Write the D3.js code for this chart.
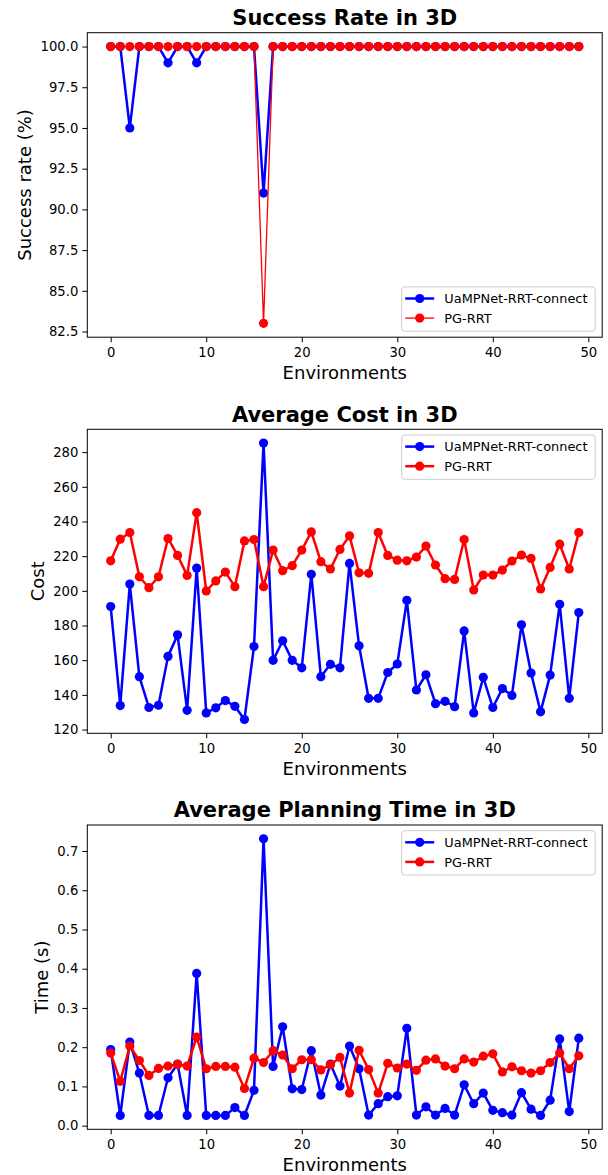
<!DOCTYPE html>
<html>
<head>
<meta charset="utf-8">
<script src="https://cdn.jsdelivr.net/npm/d3@7"></script>
<style>
  html, body { margin: 0; padding: 0; background: #fff; }
  svg { display: block; font-family: "DejaVu Sans", sans-serif; }
</style>
</head>
<body>
<svg id="chart" width="608" height="1175"></svg>
<script>
// ---------- data ----------
const environments = [0,1,2,3,4,5,6,7,8,9,10,11,12,13,14,15,16,17,18,19,20,21,22,23,24,25,26,27,28,29,30,31,32,33,34,35,36,37,38,39,40,41,42,43,44,45,46,47,48,49];
const seriesNames = ["UaMPNet-RRT-connect", "PG-RRT"];

const successUa = [100,100,95,100,100,100,99,100,100,99, 100,100,100,100,100,100,91,100,100,100, 100,100,100,100,100,100,100,100,100,100, 100,100,100,100,100,100,100,100,100,100, 100,100,100,100,100,100,100,100,100,100];
const successPg = [100,100,100,100,100,100,100,100,100,100, 100,100,100,100,100,100,83,100,100,100, 100,100,100,100,100,100,100,100,100,100, 100,100,100,100,100,100,100,100,100,100, 100,100,100,100,100,100,100,100,100,100];

const costUa = [190.9,133.8,203.9,150.5,132.7,134.0,162.2,174.6,131.1,213.1, 129.6,132.5,136.7,133.4,125.8,167.9,285.2,159.9,171.2,159.9, 155.6,209.5,150.5,157.6,155.6,215.8,168.3,138.0,138.0,152.9, 157.8,194.5,142.8,151.6,134.9,136.3,133.2,176.9,129.6,150.1, 132.7,143.6,139.7,180.4,152.6,130.2,151.4,192.2,138.0,187.5];
const costPg = [217.3,229.8,233.6,208.1,201.8,208.1,230.2,220.4,208.9,245.1, 199.9,205.7,210.8,202.4,228.8,229.6,202.4,223.5,211.6,214.5, 223.5,234.0,216.8,212.6,223.9,231.7,210.4,210.1,233.6,220.4, 217.7,217.3,219.5,225.8,214.9,207.0,206.6,229.6,200.5,209.1, 209.1,212.0,217.2,220.6,218.7,201.1,213.5,226.9,212.6,233.6];

const timeUa = [0.194,0.026,0.213,0.134,0.026,0.026,0.122,0.157,0.026,0.388, 0.026,0.026,0.026,0.046,0.026,0.090,0.731,0.151,0.252,0.094, 0.092,0.191,0.078,0.157,0.101,0.203,0.145,0.027,0.056,0.074, 0.076,0.248,0.027,0.048,0.027,0.044,0.027,0.104,0.056,0.083, 0.039,0.033,0.027,0.084,0.042,0.026,0.065,0.221,0.036,0.223];
const timePg = [0.185,0.113,0.203,0.166,0.128,0.146,0.152,0.156,0.152,0.226, 0.145,0.151,0.151,0.149,0.095,0.172,0.161,0.191,0.180,0.145, 0.168,0.168,0.142,0.155,0.174,0.083,0.192,0.143,0.083,0.159, 0.147,0.157,0.141,0.167,0.170,0.152,0.145,0.170,0.162,0.177, 0.183,0.137,0.150,0.140,0.134,0.140,0.161,0.185,0.145,0.178];

const xTicks = [0,10,20,30,40,50];
const successTicks = [82.5,85.0,87.5,90.0,92.5,95.0,97.5,100.0];
const costTicks = [120,140,160,180,200,220,240,260,280];
const timeTicks = [0.0,0.1,0.2,0.3,0.4,0.5,0.6,0.7];

const titles = ["Success Rate in 3D", "Average Cost in 3D", "Average Planning Time in 3D"];
const yLabels = ["Success rate (%)", "Cost", "Time (s)"];
const xLabel = "Environments";

// ---------- layout ----------
const svg = d3.select("#chart");
const left = 87.3, right = 602.2;
const panels = [
  { top: 32.7, bottom: 337.2, a: successUa, b: successPg, ticks: successTicks, fmt: d3.format(".1f"), redW: 1.3, legendPos: "lower" },
  { top: 429.3, bottom: 733.3, a: costUa, b: costPg, ticks: costTicks, fmt: d3.format("d"), redW: 2.5, legendPos: "upper" },
  { top: 825.0, bottom: 1129.3, a: timeUa, b: timePg, ticks: timeTicks, fmt: d3.format(".1f"), redW: 2.5, legendPos: "upper" }
];
const colors = ["#0000ff", "#ff0000"];
const tickFont = 13.2;

panels.forEach((p, i) => {
  const xDom = d3.extent(environments);
  const xPad = (xDom[1] - xDom[0]) * 0.05;
  const x = d3.scaleLinear().domain([xDom[0] - xPad, xDom[1] + xPad]).range([left, right]);
  const all = p.a.concat(p.b);
  const yDom = d3.extent(all);
  const yPad = (yDom[1] - yDom[0]) * 0.05;
  const y = d3.scaleLinear().domain([yDom[0] - yPad, yDom[1] + yPad]).range([p.bottom, p.top]);

  const g = svg.append("g");

  // axes
  const xAxis = g.append("g").attr("transform", `translate(0,${p.bottom})`)
    .call(d3.axisBottom(x).tickValues(xTicks).tickSize(5).tickPadding(5.3).tickFormat(d3.format("d")));
  const yAxis = g.append("g").attr("transform", `translate(${left},0)`)
    .call(d3.axisLeft(y).tickValues(p.ticks).tickSize(5).tickPadding(4).tickFormat(p.fmt));
  [xAxis, yAxis].forEach(ax => {
    ax.select(".domain").remove();
    ax.selectAll("line").attr("stroke", "#000").attr("stroke-width", 1);
    ax.selectAll("text").attr("fill", "#000").style("font-size", tickFont + "px").style("font-family", "DejaVu Sans");
  });

  // frame
  g.append("rect").attr("x", left).attr("y", p.top).attr("width", right - left).attr("height", p.bottom - p.top)
    .attr("fill", "none").attr("stroke", "#000").attr("stroke-width", 1);

  // series
  const line = d3.line().x((d, k) => x(environments[k])).y(d => y(d));
  [p.a, p.b].forEach((vals, s) => {
    g.append("path").datum(vals).attr("d", line).attr("fill", "none")
      .attr("stroke", colors[s]).attr("stroke-width", s === 1 ? p.redW : 2.5).attr("stroke-linejoin", "round");
    g.append("g").selectAll("circle").data(vals).join("circle")
      .attr("cx", (d, k) => x(environments[k])).attr("cy", d => y(d)).attr("r", 4.6).attr("fill", colors[s]);
  });

  // title
  g.append("text").attr("x", (left + right) / 2).attr("y", p.top - 7.7).attr("text-anchor", "middle")
    .style("font-size", "21px").style("font-weight", "bold").text(titles[i]);

  // x label
  g.append("text").attr("x", (left + right) / 2).attr("y", p.bottom + 42).attr("text-anchor", "middle")
    .style("font-size", "18px").text(xLabel);

  // y label
  const tl = yAxis.node().getBBox().x + left;
  const yc = (p.top + p.bottom) / 2;
  const lx = tl - 9.5;
  g.append("text").attr("transform", `translate(${lx},${yc}) rotate(-90)`).attr("text-anchor", "middle")
    .style("font-size", "18px").text(yLabels[i]);

  // legend
  const lw = 193.5, lh = 44.3;
  const lx0 = right - 7 - lw;
  const ly0 = p.legendPos === "upper" ? p.top + 5.7 : p.bottom - 6 - lh;
  const leg = g.append("g");
  leg.append("rect").attr("x", lx0).attr("y", ly0).attr("width", lw).attr("height", lh).attr("rx", 3)
    .attr("fill", "#fff").attr("fill-opacity", 0.8).attr("stroke", "#cccccc").attr("stroke-width", 1);
  seriesNames.forEach((name, s) => {
    const ry = ly0 + 11.6 + s * 19.6;
    leg.append("line").attr("x1", lx0 + 3.5).attr("x2", lx0 + 32.5).attr("y1", ry).attr("y2", ry)
      .attr("stroke", colors[s]).attr("stroke-width", s === 1 ? p.redW : 2.5);
    leg.append("circle").attr("cx", lx0 + 18).attr("cy", ry).attr("r", 4.6).attr("fill", colors[s]);
    leg.append("text").attr("x", lx0 + 42.6).attr("y", ry).attr("dy", "0.36em")
      .style("font-size", "12.9px").text(name);
  });
});
</script>
</body>
</html>
